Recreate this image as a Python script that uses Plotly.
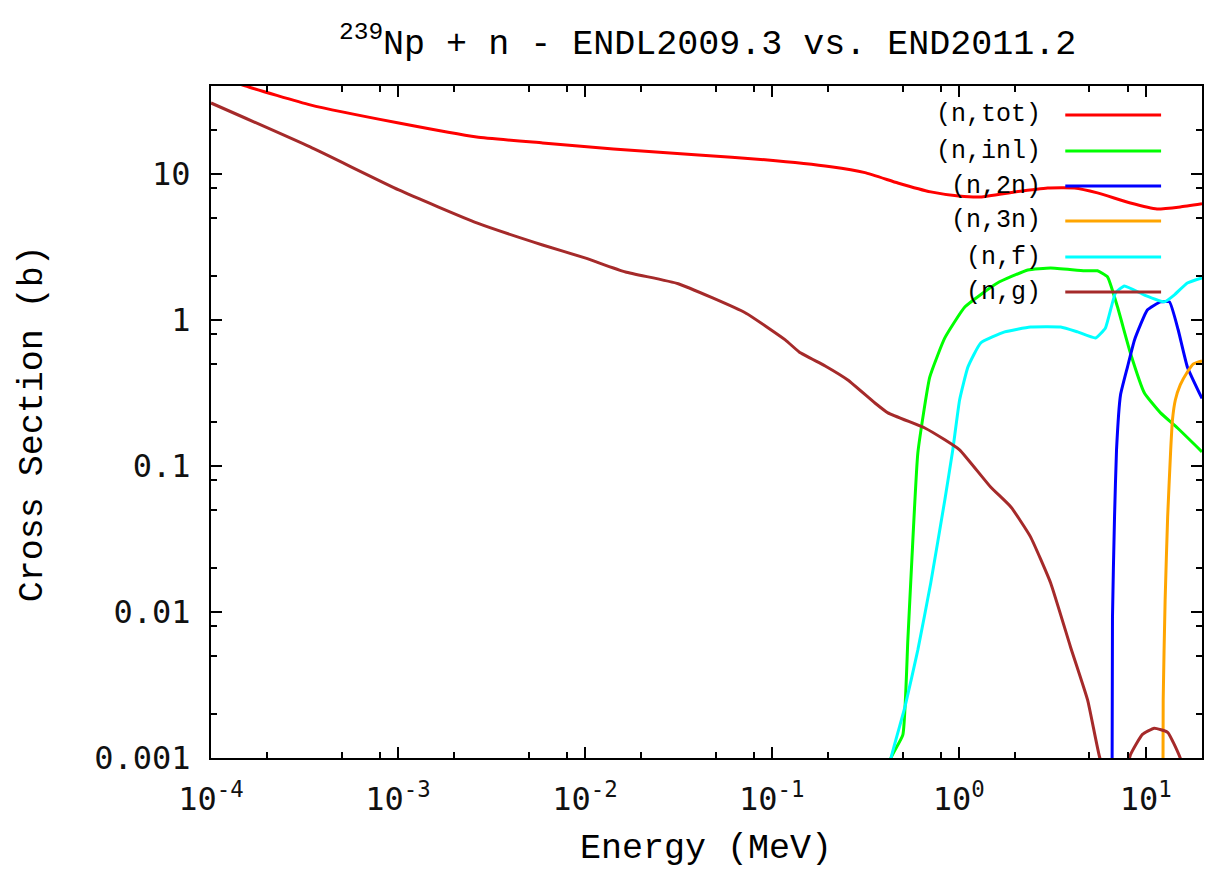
import plotly.graph_objects as go

# Incident neutron energy (MeV) and cross sections (barns) for each reaction channel
energy_tot = [1.0e-4, 1.52e-4, 3.39e-4, 1.01e-3, 2.64e-3, 5.94e-3, 1.42e-2, 4.05e-2, 9.2e-2,
              0.207, 0.315, 0.472, 0.708, 1.0, 1.31, 1.99, 2.99, 4.16, 5.52, 8.28, 11.5, 15.3, 20.0]
xs_tot = [48.4, 40.1, 29.7, 22.3, 17.9, 16.3, 14.8, 13.5, 12.5,
          11.2, 10.2, 8.67, 7.53, 7.06, 6.95, 7.53, 8.02, 8.02, 7.41, 6.32, 5.75, 5.94, 6.24]

energy_inl = [0.42, 0.434, 0.502, 0.534, 0.561, 0.604, 0.700, 0.842, 1.08, 1.61, 2.34, 3.10,
              4.71, 5.52, 6.25, 7.06, 8.28, 9.84, 12.0, 14.8, 20.0]
xs_inl = [5.0e-4, 1.0e-3, 1.44e-3, 6.43e-3, 0.0227, 0.123, 0.407, 0.753, 1.23, 1.79, 2.20, 2.27,
          2.17, 2.17, 1.97, 1.23, 0.594, 0.316, 0.231, 0.182, 0.125]

energy_2n = [6.55, 6.64, 6.81, 6.98, 7.33, 7.99, 8.71, 10.2, 12.0, 13.4, 14.9, 16.7, 20.0]
xs_2n = [1.0e-5, 9.2e-3, 0.0448, 0.129, 0.306, 0.477, 0.730, 1.17, 1.33, 1.33, 0.860, 0.477, 0.290]

energy_3n = [12.25, 12.4, 12.7, 13.1, 13.6, 13.9, 14.4, 15.3, 16.7, 18.0, 20.0]
xs_3n = [1.0e-5, 2.5e-3, 0.0121, 0.0448, 0.129, 0.207, 0.283, 0.359, 0.440, 0.500, 0.524]

energy_f = [0.40, 0.434, 0.515, 0.604, 0.708, 0.842, 0.929, 1.01, 1.12, 1.31, 1.76, 2.42, 3.51,
            4.32, 5.39, 6.09, 6.89, 7.69, 9.84, 12.6, 14.2, 16.7, 20.0]
xs_f = [5.0e-4, 1.0e-3, 2.23e-3, 5.5e-3, 0.0158, 0.0585, 0.129, 0.283, 0.477, 0.695, 0.828, 0.895, 0.895,
        0.828, 0.753, 0.882, 1.53, 1.71, 1.48, 1.33, 1.48, 1.79, 1.94]

energy_g = [1.0e-4, 3.39e-4, 1.01e-3, 2.64e-3, 5.94e-3, 1.0e-2, 1.65e-2, 3.16e-2, 7.2e-2, 0.118,
            0.140, 0.193, 0.255, 0.356, 0.418, 0.658, 0.842, 1.01, 1.48, 1.90, 2.42, 3.10, 3.96,
            4.89, 5.66, 7.0, 8.28, 9.6, 11.1, 13.1, 15.3, 20.0]
xs_g = [30.6, 15.3, 7.77, 4.62, 3.26, 2.66, 2.13, 1.77, 1.12, 0.730,
        0.604, 0.484, 0.388, 0.270, 0.231, 0.182, 0.151, 0.129, 0.0718, 0.0524, 0.0327, 0.0158, 0.00576,
        0.00249, 0.00102, 4.5e-4, 1.05e-3, 1.45e-3, 1.6e-3, 1.5e-3, 1.0e-3, 3.0e-4]

reaction_labels = ["(n,tot)", "(n,inl)", "(n,2n)", "(n,3n)", "(n,f)", "(n,g)"]
reaction_colors = ["#ff0000", "#00ff00", "#0000ff", "#ffa500", "#00ffff", "#a52a2a"]

x_tick_vals = [1e-4, 1e-3, 1e-2, 1e-1, 1, 10]
x_tick_text = ["10<sup>-4</sup>", "10<sup>-3</sup>", "10<sup>-2</sup>", "10<sup>-1</sup>",
               "10<sup>0</sup>", "10<sup>1</sup>"]
y_tick_vals = [0.001, 0.01, 0.1, 1, 10]
y_tick_text = ["0.001", "0.01", "0.1", "1", "10"]

title_text = "<sup>239</sup>Np + n - ENDL2009.3 vs. END2011.2"
x_title = "Energy (MeV)"
y_title = "Cross Section (b)"

series = [
    (energy_tot, xs_tot),
    (energy_inl, xs_inl),
    (energy_2n, xs_2n),
    (energy_3n, xs_3n),
    (energy_f, xs_f),
    (energy_g, xs_g),
]

MONO = "Liberation Mono"
TICKFONT = "DejaVu Sans Mono"

fig = go.Figure()
for (ex, sx), name, color in zip(series, reaction_labels, reaction_colors):
    fig.add_trace(go.Scatter(x=ex, y=sx, mode="lines", name=name,
                             line=dict(color=color, width=3, shape="spline", smoothing=0.4),
                             showlegend=False))

# gnuplot-style minor ticks at 2, 5 and 8 in every decade
x_minor = [m * 10.0 ** k for k in range(-4, 2) for m in (2, 5, 8)]
y_minor = [m * 10.0 ** k for k in range(-3, 2) for m in (2, 5, 8)]

axis_common = dict(
    type="log", showgrid=False, zeroline=False,
    showline=True, linecolor="black", linewidth=2, mirror="ticks",
    ticks="inside", ticklen=11, tickwidth=2, tickcolor="black",
    tickfont=dict(family=TICKFONT, size=32, color="#111111"),
)

fig.update_xaxes(range=[-4, 1.30103], tickmode="array", tickvals=x_tick_vals, ticktext=x_tick_text,
                 ticklabelstandoff=12,
                 minor=dict(tickmode="array", tickvals=x_minor, ticks="inside", ticklen=6,
                            tickwidth=2, tickcolor="black", showgrid=False),
                 **axis_common)
fig.update_yaxes(range=[-3, 1.60206], tickmode="array", tickvals=y_tick_vals, ticktext=y_tick_text,
                 ticklabelstandoff=12,
                 minor=dict(tickmode="array", tickvals=y_minor, ticks="inside", ticklen=6,
                            tickwidth=2, tickcolor="black", showgrid=False),
                 **axis_common)

W, H = 1206, 869
L, R, T, B = 211, 1204, 86, 758


def px_x(px):
    return (px - L) / (R - L)


def px_y(py):
    return (B - py) / (B - T)


annotations = [
    dict(text=title_text, x=px_x(709), xref="paper", y=px_y(42), yref="paper",
         showarrow=False, font=dict(family=MONO, size=35, color="black"), xanchor="center", yanchor="middle"),
    dict(text=x_title, x=px_x(707), xref="paper", y=px_y(849), yref="paper",
         showarrow=False, font=dict(family=MONO, size=35, color="black"), xanchor="center", yanchor="middle"),
    dict(text=y_title, x=px_x(33), xref="paper", y=px_y(424), yref="paper", textangle=-90,
         showarrow=False, font=dict(family=MONO, size=35, color="black"), xanchor="center", yanchor="middle"),
]

# Key in the top-right corner: right-aligned labels followed by line samples
shapes = []
row_y = [115, 151, 186, 221, 257, 292]
for name, color, py in zip(reaction_labels, reaction_colors, row_y):
    annotations.append(dict(text=name, x=px_x(1045), xref="paper", y=px_y(py), yref="paper",
                            showarrow=False, xanchor="right", yanchor="middle",
                            font=dict(family=MONO, size=25, color="black")))
    shapes.append(dict(type="line", xref="paper", yref="paper",
                       x0=px_x(1067), x1=px_x(1163), y0=px_y(py), y1=px_y(py),
                       line=dict(color=color, width=3)))

fig.update_layout(
    width=W, height=H,
    margin=dict(l=L, r=W - R, t=T, b=H - B, pad=0),
    paper_bgcolor="white", plot_bgcolor="white",
    annotations=annotations, shapes=shapes,
    showlegend=False,
)

fig.write_html("out.html")
